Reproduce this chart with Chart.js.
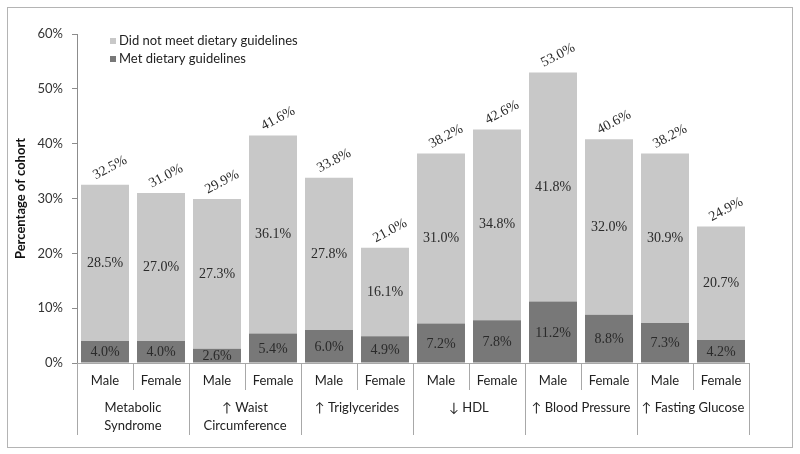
<!DOCTYPE html>
<html>
<head>
<meta charset="utf-8">
<script src="https://cdn.jsdelivr.net/npm/chart.js@4.4.1/dist/chart.umd.min.js"></script>
<style>
  html, body { margin: 0; padding: 0; background: #fff; }
  #wrap { width: 800px; height: 454px; position: relative; }
</style>
</head>
<body>
<div id="wrap"><canvas id="cohortChart"></canvas></div>
<script>
// data
const sexes = ['Male', 'Female', 'Male', 'Female', 'Male', 'Female', 'Male', 'Female', 'Male', 'Female', 'Male', 'Female'];
const groups = [['Metabolic', 'Syndrome'], ['↑ Waist', 'Circumference'], ['↑ Triglycerides'], ['↓ HDL'], ['↑ Blood Pressure'], ['↑ Fasting Glucose']];
const met = [4.0, 4.0, 2.6, 5.4, 6.0, 4.9, 7.2, 7.8, 11.2, 8.8, 7.3, 4.2];
const notMet = [28.5, 27.0, 27.3, 36.1, 27.8, 16.1, 31.0, 34.8, 41.8, 32.0, 30.9, 20.7];
const totals = [32.5, 31.0, 29.9, 41.6, 33.8, 21.0, 38.2, 42.6, 53.0, 40.6, 38.2, 24.9];
const yTicks = [0, 10, 20, 30, 40, 50, 60];

const LIGHT = '#c8c8c8';
const DARK = '#787878';
const SANS = "Lato, 'DejaVu Sans', sans-serif";
const SERIF = "'Liberation Serif', 'Times New Roman', serif";

// frame, legend, bar labels, two-level x axis
const extras = {
    id: 'extras',
    beforeDraw(chart) {
        const c = chart.ctx;
        c.save();
        c.strokeStyle = '#b4b4b4';
        c.lineWidth = 1;
        c.strokeRect(7.5, 7.5, 785, 440);
        c.restore();
    },
    afterDraw(chart) {
        const c = chart.ctx;
        const x = chart.scales.x;
        const area = chart.chartArea;
        const half = (x.getPixelForValue(1) - x.getPixelForValue(0)) / 2;

        // bar value labels
        c.save();
        c.font = '14px ' + SERIF;
        c.fillStyle = '#2a2a2a';
        c.textAlign = 'center';
        c.textBaseline = 'middle';
        const metBars = chart.getDatasetMeta(0).data;
        const notBars = chart.getDatasetMeta(1).data;
        metBars.forEach((b, i) => {
            c.fillText(met[i].toFixed(1) + '%', b.x, (b.y + b.base) / 2 + 1);
        });
        notBars.forEach((b, i) => {
            c.fillText(notMet[i].toFixed(1) + '%', b.x, (b.y + b.base) / 2);
            c.save();
            c.translate(b.x + 5, b.y - 17);
            c.rotate(-28 * Math.PI / 180);
            c.fillText(totals[i].toFixed(1) + '%', 0, 0);
            c.restore();
        });
        c.restore();

        // category dividers and group labels
        c.save();
        c.strokeStyle = '#a8a8a8';
        c.lineWidth = 1;
        for (let i = 0; i <= sexes.length; i++) {
            const px = Math.round(x.getPixelForValue(i) - half) + 0.5;
            const len = i % 2 === 0 ? 72 : 27;
            c.beginPath();
            c.moveTo(px, area.bottom);
            c.lineTo(px, area.bottom + len);
            c.stroke();
        }
        c.font = '13px ' + SANS;
        c.fillStyle = '#222';
        c.textAlign = 'center';
        c.textBaseline = 'middle';
        groups.forEach((lines, g) => {
            const cx = (x.getPixelForValue(2 * g) + x.getPixelForValue(2 * g + 1)) / 2;
            lines.forEach((t, k) => c.fillText(t, cx, area.bottom + 45 + k * 18));
        });

        // legend inside plot
        const items = [['Did not meet dietary guidelines', LIGHT], ['Met dietary guidelines', DARK]];
        items.forEach(([t, col], k) => {
            const ly = 41 + k * 18;
            c.fillStyle = col;
            c.fillRect(110, ly - 3, 6, 6);
            c.fillStyle = '#222';
            c.textAlign = 'left';
            c.fillText(t, 119, ly);
        });
        c.restore();
    }
};

const ctx = document.getElementById('cohortChart').getContext('2d');
new Chart(ctx, {
    type: 'bar',
    data: {
        labels: sexes,
        datasets: [{
            label: 'Met dietary guidelines',
            data: met,
            backgroundColor: DARK
        }, {
            label: 'Did not meet dietary guidelines',
            data: notMet,
            backgroundColor: LIGHT
        }]
    },
    options: {
        responsive: true,
        maintainAspectRatio: false,
        animation: false,
        barPercentage: 0.857,
        categoryPercentage: 1,
        layout: { padding: { top: 34, right: 51, bottom: 0, left: 0 } },
        plugins: {
            legend: { display: false },
            tooltip: { enabled: false }
        },
        scales: {
            x: {
                stacked: true,
                grid: { display: false, drawTicks: false },
                border: { display: true, color: '#a8a8a8' },
                ticks: { color: '#222', font: { family: SANS, size: 13 }, padding: 10, maxRotation: 0, autoSkip: false },
                afterFit(scale) { scale.height = 91; }
            },
            y: {
                stacked: true,
                min: 0,
                max: 60,
                afterBuildTicks(scale) { scale.ticks = yTicks.map(v => ({ value: v })); },
                grid: { drawOnChartArea: false, drawTicks: true, tickLength: 5, color: '#8c8c8c' },
                border: { display: true, color: '#8c8c8c' },
                ticks: { color: '#333', font: { family: SANS, size: 13 }, padding: 9, callback: v => v + '%' },
                title: { display: true, text: 'Percentage of cohort', color: '#111', font: { family: SANS, size: 13, weight: 'bold' }, padding: { top: 13, bottom: 0 } },
                afterFit(scale) { scale.width = 77; }
            }
        }
    },
    plugins: [extras]
});
</script>
</body>
</html>
